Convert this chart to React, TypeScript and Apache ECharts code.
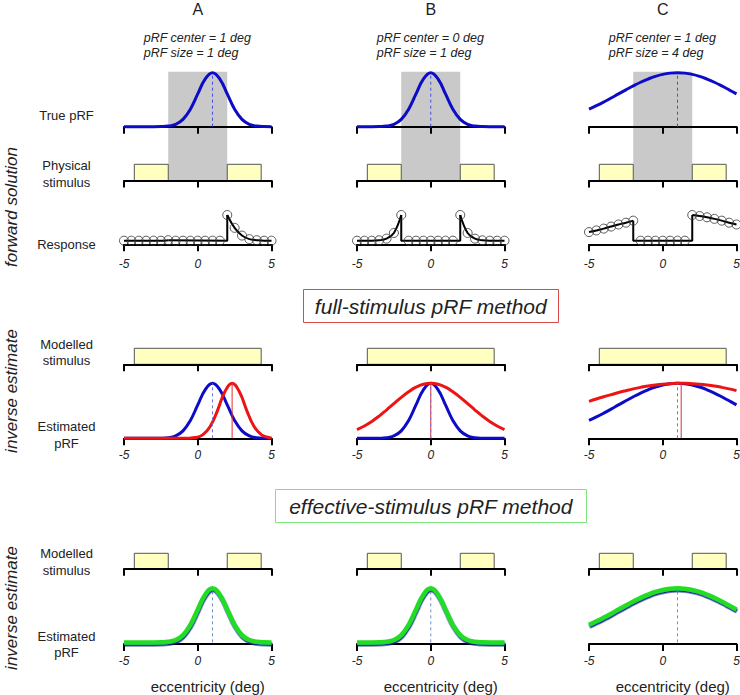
import React, { useEffect, useRef } from "react";
import * as echarts from "echarts";

// ---------- data ----------
const ECC = [-5, -4.5, -4, -3.5, -3, -2.5, -2, -1.5, -1, -0.5, 0, 0.5, 1, 1.5, 2, 2.5, 3, 3.5, 4, 4.5, 5];
const TICKS = [-5, 0, 5];
const PANELS = ["A", "B", "C"];
const PRF_CENTER = [1, 0, 1];
const PRF_SIZE = [1, 1, 4];

const TRUE_PRF_A = [0, 0, 0, 0, 0, 0.002, 0.011, 0.044, 0.135, 0.325, 0.607, 0.882, 1, 0.882, 0.607, 0.325, 0.135, 0.044, 0.011, 0.002, 0];
const TRUE_PRF_B = [0, 0, 0, 0.002, 0.011, 0.044, 0.135, 0.325, 0.607, 0.882, 1, 0.882, 0.607, 0.325, 0.135, 0.044, 0.011, 0.002, 0, 0, 0];
const TRUE_PRF_C = [0.325, 0.389, 0.458, 0.531, 0.607, 0.682, 0.755, 0.823, 0.882, 0.932, 0.969, 0.992, 1, 0.992, 0.969, 0.932, 0.882, 0.823, 0.755, 0.682, 0.607];

const STIM_MASK = [[-2, 2]];
const PHYSICAL_STIM = [[-4.3, -2], [2, 4.3]];
const FULL_STIM = [[-4.3, 4.3]];
const EFFECTIVE_STIM = [[-4.3, -2], [2, 4.3]];

const RESP_A = [0, 0, 0, 0, 0, 0, 0.02, 0, 0, 0, 0, 0, 0, 0, 1, 0.5, 0.2, 0.06, 0.02, 0, 0];
const RESP_B = [0, 0, 0, 0.015, 0.08, 0.3, 1, 0, 0, 0, 0, 0, 0, 0, 1, 0.3, 0.08, 0.015, 0, 0, 0];
const RESP_C = [0.335, 0.4, 0.47, 0.55, 0.63, 0.7, 0.78, 0, 0, 0, 0, 0, 0, 0, 1, 0.96, 0.91, 0.85, 0.78, 0.7, 0.63];

const FULL_EST_CENTER = [2.33, 0, 1.25];
// estimated pRF in A is sampled on its own positions (around its peak)
const FULL_EST_A_X = [-5, -1.17, -0.67, -0.17, 0.33, 0.83, 1.33, 1.83, 2.33, 2.83, 3.33, 3.83, 4.33, 4.83, 5];
const FULL_EST_A = [0, 0, 0.002, 0.013, 0.063, 0.211, 0.5, 0.841, 1, 0.841, 0.5, 0.211, 0.063, 0.013, 0.007];
const FULL_EST_B = [0.157, 0.224, 0.306, 0.404, 0.514, 0.63, 0.744, 0.847, 0.929, 0.982, 1, 0.982, 0.929, 0.847, 0.744, 0.63, 0.514, 0.404, 0.306, 0.224, 0.157];
const FULL_EST_C = [0.671, 0.714, 0.755, 0.794, 0.832, 0.866, 0.898, 0.926, 0.95, 0.969, 0.984, 0.994, 0.999, 0.999, 0.994, 0.984, 0.969, 0.95, 0.926, 0.898, 0.866];

const EFF_EST_CENTER = [1, 0, 1];
const EFF_EST_A = [0, 0, 0, 0, 0, 0.002, 0.011, 0.044, 0.135, 0.325, 0.607, 0.882, 1, 0.882, 0.607, 0.325, 0.135, 0.044, 0.011, 0.002, 0];
const EFF_EST_B = [0, 0, 0, 0.002, 0.011, 0.044, 0.135, 0.325, 0.607, 0.882, 1, 0.882, 0.607, 0.325, 0.135, 0.044, 0.011, 0.002, 0, 0, 0];
const EFF_EST_C = [0.325, 0.389, 0.458, 0.531, 0.607, 0.682, 0.755, 0.823, 0.882, 0.932, 0.969, 0.992, 1, 0.992, 0.969, 0.932, 0.882, 0.823, 0.755, 0.682, 0.607];

const TRUE_PRF = [TRUE_PRF_A, TRUE_PRF_B, TRUE_PRF_C];
const RESP = [RESP_A, RESP_B, RESP_C];
const FULL_EST_X = [FULL_EST_A_X, ECC, ECC];
const FULL_EST = [FULL_EST_A, FULL_EST_B, FULL_EST_C];
const EFF_EST = [EFF_EST_A, EFF_EST_B, EFF_EST_C];

// ---------- styling / layout ----------
const FONT = '"Liberation Sans", Arial, Helvetica, sans-serif';
const COL_LEFT = [124, 357, 589];
const COL_W = 147.5;
const BLUE = "#0c0cc8";
const RED = "#ee1414";
const GREEN = "#22dd22";
const YELLOW = "#ffffc0";
const GRAY = "#c9c9c9";
const TXT = "#222";

function buildOption() {
  const grid: any[] = [];
  const xAxis: any[] = [];
  const yAxis: any[] = [];
  const series: any[] = [];

  const addPanel = (c: number, top: number, bottom: number, ymin: number, ymax: number, show: boolean, labels: boolean, margin = 12) => {
    const idx = grid.length;
    grid.push({ left: COL_LEFT[c], top, width: COL_W, height: bottom - top, containLabel: false, outerBoundsMode: "none" });
    xAxis.push({
      gridIndex: idx, type: "value", min: TICKS[0], max: TICKS[TICKS.length - 1], interval: TICKS[1] - TICKS[0],
      show, z: 2,
      axisLine: { show: true, onZero: false, lineStyle: { color: "#000", width: 2 } },
      axisTick: { show: true, length: 7, lineStyle: { color: "#000", width: 2 } },
      axisLabel: { show: labels, margin, fontSize: 12, fontStyle: "italic", fontFamily: FONT, color: TXT, showMinLabel: true, showMaxLabel: true },
      splitLine: { show: false },
    });
    yAxis.push({ gridIndex: idx, type: "value", min: ymin, max: ymax, show: false, splitLine: { show: false } });
    return idx;
  };
  const pts = (arr: number[], xs: number[] = ECC) => xs.map((x, i) => [x, arr[i]]);
  const line = (idx: number, data: number[][], color: string, width: number, smooth: any = 0.45, extra: any = {}) =>
    series.push({ type: "line", xAxisIndex: idx, yAxisIndex: idx, data, smooth, symbol: "none", clip: false, silent: true, z: 3, lineStyle: { color, width, ...extra } });
  const vline = (idx: number, x: number, color: string, type: any) =>
    series.push({ type: "line", xAxisIndex: idx, yAxisIndex: idx, data: [[x, 0], [x, 1]], symbol: "none", clip: false, silent: true, z: 4, lineStyle: { color, width: 1, type } });
  const boxes = (idx: number, ranges: number[][], fill: string, stroke: string | null, z: number) =>
    series.push({
      type: "custom", xAxisIndex: idx, yAxisIndex: idx, data: ranges, encode: { x: [0, 1] }, clip: false, silent: true, z,
      renderItem: (_p: any, api: any) => {
        const a = api.coord([api.value(0), 0]);
        const b = api.coord([api.value(1), 1]);
        return {
          type: "rect",
          shape: { x: a[0], y: b[1], width: b[0] - a[0], height: a[1] - b[1] },
          style: { fill, stroke: stroke || "none", lineWidth: stroke ? 1 : 0 },
        };
      },
    });

  for (let c = 0; c < 3; c++) {
    // gray occluder spanning rows 1-2
    const m = addPanel(c, 71.7, 182, 0, 1, false, false);
    boxes(m, STIM_MASK, GRAY, null, 0);

    // true pRF
    const r1 = addPanel(c, 72.7, 126.7, 0, 1, true, false);
    line(r1, pts(TRUE_PRF[c]), BLUE, 3);
    vline(r1, PRF_CENTER[c], "#4a4ae6", [3, 3]);

    // physical stimulus
    const r2 = addPanel(c, 164.3, 180.5, 0, 1, true, false);
    boxes(r2, PHYSICAL_STIM, YELLOW, "#555", 1);

    // response
    const r3 = addPanel(c, 215, 244.3, -0.14, 1, true, true, 14);
    const resp = RESP[c];
    const lo = STIM_MASK[0][0];
    const hi = STIM_MASK[0][1];
    const iLo = ECC.indexOf(lo);
    const iHi = ECC.indexOf(hi);
    const all = pts(resp);
    line(r3, all.filter((p) => p[0] <= lo), "#000", 2, 0.4);
    line(r3, [[lo, resp[iLo]], [lo, 0], [hi, 0], [hi, resp[iHi]]], "#000", 2, false);
    line(r3, all.filter((p) => p[0] >= hi), "#000", 2, 0.4);
    series.push({
      type: "scatter", xAxisIndex: r3, yAxisIndex: r3, data: all, symbol: "circle", symbolSize: 9, clip: false, silent: true, z: 5,
      itemStyle: { color: "rgba(255,255,255,0)", borderColor: "#333", borderWidth: 1 },
    });

    // full-stimulus modelled stimulus
    const r4 = addPanel(c, 348.3, 364.3, 0, 1, true, false);
    boxes(r4, FULL_STIM, YELLOW, "#555", 1);

    // full-stimulus estimated pRF
    const r5 = addPanel(c, 383.3, 438.3, 0, 1, true, true, 11);
    line(r5, pts(TRUE_PRF[c]), BLUE, 3);
    line(r5, pts(FULL_EST[c], FULL_EST_X[c]), RED, 3);
    vline(r5, FULL_EST_CENTER[c], "#e03030", "solid");
    vline(r5, PRF_CENTER[c], "#7070e8", [3, 3]);

    // effective-stimulus modelled stimulus
    const r6 = addPanel(c, 553.3, 568.7, 0, 1, true, false);
    boxes(r6, EFFECTIVE_STIM, YELLOW, "#555", 1);

    // effective-stimulus estimated pRF
    const r7 = addPanel(c, 588.3, 644, -0.03, 1, true, true, 11);
    line(r7, pts(EFF_EST[c]), GREEN, 4.5, 0.45, { shadowColor: "#14208c", shadowBlur: 0, shadowOffsetY: 1.6, shadowOffsetX: 0.4 });
    vline(r7, EFF_EST_CENTER[c], "#6e8fcc", [3, 3]);
  }

  const txt = (text: string, x: number, y: number, size: number, opts: any = {}) => ({
    type: "text", x, y, rotation: opts.rotation || 0, silent: true, z: 10,
    style: {
      text, x: 0, y: 0, fill: TXT, fontSize: size, fontFamily: FONT, fontStyle: opts.italic ? "italic" : "normal",
      align: opts.align || "center", textAlign: opts.align || "center", verticalAlign: "middle", textVerticalAlign: "middle",
    },
  });

  const graphic: any[] = [];
  for (let c = 0; c < 3; c++) {
    const cx = COL_LEFT[c] + COL_W / 2;
    graphic.push(txt(PANELS[c], cx, 9.5, 16));
    graphic.push(txt(`pRF center = ${PRF_CENTER[c]} deg`, cx - 54, 38.3, 12.5, { italic: true, align: "left" }));
    graphic.push(txt(`pRF size = ${PRF_SIZE[c]} deg`, cx - 54, 53.3, 12.5, { italic: true, align: "left" }));
    graphic.push(txt("eccentricity (deg)", cx + 10, 686.7, 15));
  }
  const LX = 66.5;
  const rowLabels: [string, number][] = [
    ["True pRF", 115], ["Physical", 165.7], ["stimulus", 182.3], ["Response", 244],
    ["Modelled", 344], ["stimulus", 360.7], ["Estimated", 426.7], ["pRF", 443.3],
    ["Modelled", 553.3], ["stimulus", 570], ["Estimated", 636], ["pRF", 652.7],
  ];
  rowLabels.forEach(([t, y]) => graphic.push(txt(t, LX, y, 13)));
  graphic.push(txt("forward solution", 11, 207, 17, { italic: true, rotation: Math.PI / 2 }));
  graphic.push(txt("inverse estimate", 11, 391, 17, { italic: true, rotation: Math.PI / 2 }));
  graphic.push(txt("inverse estimate", 11, 608, 17, { italic: true, rotation: Math.PI / 2 }));

  graphic.push({ type: "rect", silent: true, z: 9, shape: { x: 303.5, y: 289.5, width: 255, height: 33 }, style: { fill: "#fff", stroke: "#d94a4a", lineWidth: 1 } });
  graphic.push(txt("full-stimulus pRF method", 430.8, 306, 21, { italic: true }));
  graphic.push({ type: "rect", silent: true, z: 9, shape: { x: 275.5, y: 489.5, width: 311, height: 33 }, style: { fill: "#fff", stroke: "#7ee47e", lineWidth: 1 } });
  graphic.push(txt("effective-stimulus pRF method", 430.8, 506, 21, { italic: true }));

  return { animation: false, backgroundColor: "#fff", grid, xAxis, yAxis, series, graphic };
}

export default function App() {
  const ref = useRef<HTMLDivElement>(null);
  useEffect(() => {
    const chart = echarts.init(ref.current!, undefined, { renderer: "svg" });
    chart.setOption(buildOption() as any);
    return () => chart.dispose();
  }, []);
  return <div ref={ref} style={{ position: "fixed", left: 0, top: 0, width: 740, height: 695, background: "#fff" }} />;
}
